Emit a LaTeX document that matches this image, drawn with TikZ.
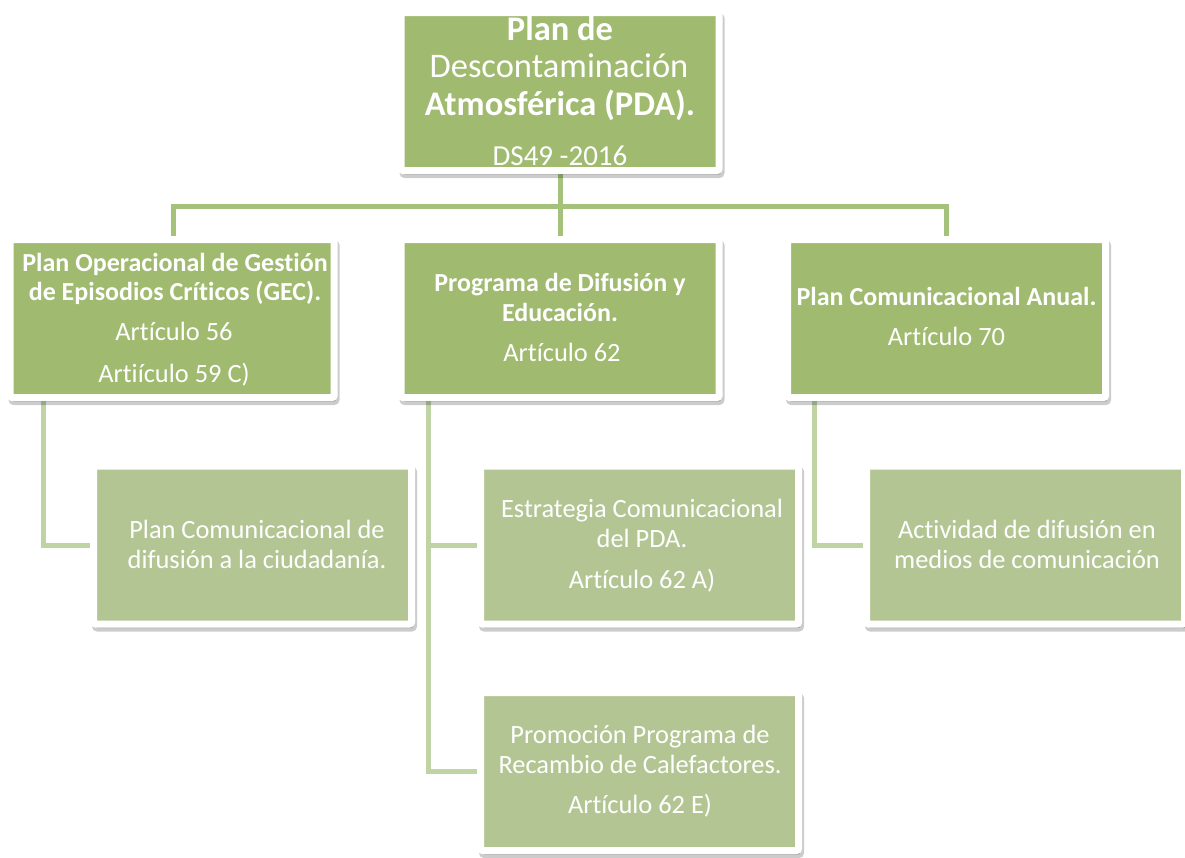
\documentclass[tikz,border=0pt]{standalone}
\usepackage{fontspec}
\setmainfont{Carlito}[Ligatures={NoCommon,NoRequired,NoContextual}]
\usetikzlibrary{shadows,calc}
\definecolor{gA}{RGB}{160,186,112}
\definecolor{gB}{RGB}{180,197,148}
\definecolor{cA}{RGB}{165,194,125}
\definecolor{cB}{RGB}{192,211,165}
\pgfdeclarelayer{bg}\pgfsetlayers{bg,main}
\begin{document}
\begin{tikzpicture}[x=1pt,y=-1pt,
  boxbase/.style={rectangle, draw=white, line width=7pt, rounded corners=2pt,
    minimum width=318pt, minimum height=158pt, inner sep=0pt,
    drop shadow={shadow xshift=2pt, shadow yshift=-4pt, opacity=0.2, fill=black, draw=black, line width=7pt}},
  boxA/.style={boxbase, fill=gA},
  boxB/.style={boxbase, fill=gB},
  txt/.style={anchor=base, text=white, inner sep=0pt},
  tbig/.style={txt, font=\bfseries\fontsize{34.5}{38}\selectfont},
  tbigr/.style={txt, font=\fontsize{34.5}{38}\selectfont},
  tmid/.style={txt, font=\fontsize{29}{33}\selectfont},
  tb/.style={txt, font=\bfseries\fontsize{26}{30}\selectfont},
  tr/.style={txt, font=\fontsize{26.4}{30}\selectfont},
  connA/.style={draw=cA, line width=5pt},
  connB/.style={draw=cB, line width=5pt}]
\useasboundingbox (0,0) rectangle (1185,857);

% boxes
\node[boxA] (top) at (560,91.5) {};
\node[boxA, minimum width=324pt] (l1a) at (172,318.5) {};
\node[boxA] (l1b) at (560,318.5) {};
\node[boxA] (l1c) at (946.5,318.5) {};
\node[boxB] (l2a) at (252.5,545) {};
\node[boxB] (m1) at (639.5,545) {};
\node[boxB] (m2) at (639.5,771.5) {};
\node[boxB] (l2c) at (1025.5,545) {};

% connectors
\begin{pgfonlayer}{bg}
\coordinate (hub) at (560,206);
\draw[connA] (top.south) -- (l1b.north);
\draw[connA] (hub) -| ($(l1a.north)+(1,0)$);
\draw[connA] (hub) -| (l1c.north);
\draw[connB] ($(l1a.south west)+(36.5,0)$) |- (l2a.west);
\draw[connB] ($(l1b.south west)+(31,0)$) |- (m1.west);
\draw[connB] ($(l1b.south west)+(31,0)$) |- (m2.west);
\draw[connB] ($(l1c.south west)+(30.5,0)$) |- (l2c.west);
\end{pgfonlayer}

% texts
\node[tbig] (t1) at (560,40) {Plan de};
\node[tbigr] (t2) at (559,77) {Descontaminación};
\node[tbig] (t3) at (560,115) {Atmosférica (PDA).};
\node[tmid] (t4) at (560,165) {DS49 -2016};

\node[tb] (a1) at (175,271) {Plan Operacional de Gestión};
\node[tb] (a2) at (175,300) {de Episodios Críticos (GEC).};
\node[tr] (a3) at (174,340) {Artículo 56};
\node[tr] (a4) at (174,382) {Artiículo 59 C)};

\node[tb] (b1) at (560,291) {Programa de Difusión y};
\node[tb] (b2) at (560,321) {Educación.};
\node[tr] (b3) at (562,361) {Artículo 62};

\node[tb] (c1) at (946.5,305) {Plan Comunicacional Anual.};
\node[tr] (c2) at (946.5,345) {Artículo 70};

\node[tr] (d1) at (257,538) {Plan Comunicacional de};
\node[tr] (d2) at (257,568) {difusión a la ciudadanía.};

\node[tr] (e1) at (642,517) {Estrategia Comunicacional};
\node[tr] (e2) at (642,547) {del PDA.};
\node[tr] (e3) at (642,588) {Artículo 62 A)};

\node[tr] (f1) at (640,743) {Promoción Programa de};
\node[tr] (f2) at (640,773) {Recambio de Calefactores.};
\node[tr] (f3) at (640,813) {Artículo 62 E)};

\node[tr] (g1) at (1027,538) {Actividad de difusión en};
\node[tr] (g2) at (1027,568) {medios de comunicación};
\end{tikzpicture}
\end{document}
